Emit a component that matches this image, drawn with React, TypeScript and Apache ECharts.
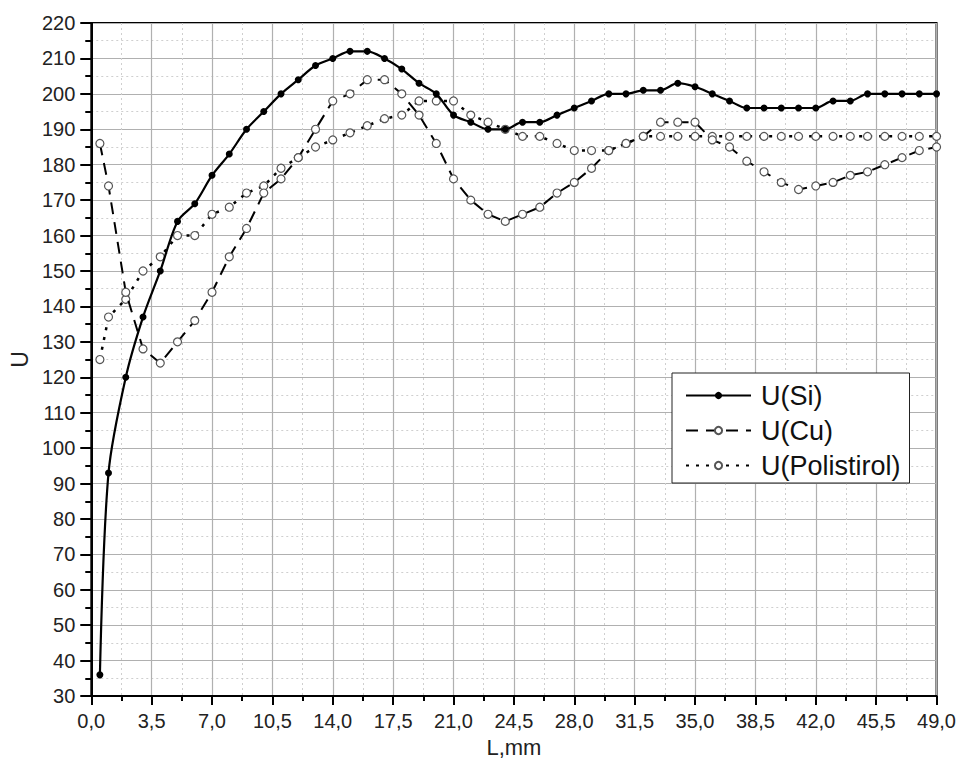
import React, { useEffect, useRef } from "react";
import * as echarts from "echarts";

// L positions (mm) shared by all three series
const L = [
  0.5, 1, 2, 3, 4, 5, 6, 7, 8, 9, 10, 11, 12, 13, 14, 15, 16, 17, 18, 19, 20,
  21, 22, 23, 24, 25, 26, 27, 28, 29, 30, 31, 32, 33, 34, 35, 36, 37, 38, 39,
  40, 41, 42, 43, 44, 45, 46, 47, 48, 49,
];

const U_SI = [
  36, 93, 120, 137, 150, 164, 169, 177, 183, 190, 195, 200, 204, 208, 210, 212,
  212, 210, 207, 203, 200, 194, 192, 190, 190, 192, 192, 194, 196, 198, 200,
  200, 201, 201, 203, 202, 200, 198, 196, 196, 196, 196, 196, 198, 198, 200,
  200, 200, 200, 200,
];

const U_CU = [
  186, 174, 144, 128, 124, 130, 136, 144, 154, 162, 172, 176, 182, 190, 198,
  200, 204, 204, 200, 194, 186, 176, 170, 166, 164, 166, 168, 172, 175, 179,
  184, 186, 188, 192, 192, 192, 187, 185, 181, 178, 175, 173, 174, 175, 177,
  178, 180, 182, 184, 185,
];

const U_POLI = [
  125, 137, 142, 150, 154, 160, 160, 166, 168, 172, 174, 179, 182, 185, 187,
  189, 191, 193, 194, 198, 198, 198, 194, 192, 190, 188, 188, 186, 184, 184,
  184, 186, 188, 188, 188, 188, 188, 188, 188, 188, 188, 188, 188, 188, 188,
  188, 188, 188, 188, 188,
];

const SERIES_NAMES = ["U(Si)", "U(Cu)", "U(Polistirol)"];
const X_TITLE = "L,mm";
const Y_TITLE = "U";

const FONT = "'Liberation Sans', Arial, sans-serif";
const TEXT = "#222";

export default function App() {
  const ref = useRef<HTMLDivElement>(null);

  useEffect(() => {
    if (!ref.current) return;
    const chart = echarts.init(ref.current, undefined, { renderer: "svg" });
    const pts = (ys: number[]) => L.map((x, i) => [x, ys[i]]);

    const option: any = {
      animation: false,
      backgroundColor: "#fff",
      textStyle: { fontFamily: FONT },
      grid: {
        left: 88,
        right: 20,
        top: 23,
        bottom: 57,
        show: true,
        borderColor: "#000",
        borderWidth: 2,
        backgroundColor: "transparent",
      },
      legend: {
        orient: "vertical",
        left: 672,
        top: 373,
        data: SERIES_NAMES,
        backgroundColor: "#fff",
        borderColor: "#222",
        borderWidth: 1,
        padding: [9, 9, 4, 13],
        itemGap: 8,
        itemWidth: 65,
        itemHeight: 9,
        textStyle: {
          fontFamily: FONT,
          fontSize: 27,
          lineHeight: 27,
          color: "#111",
          padding: [0, 0, 0, 5],
        },
      },
      xAxis: {
        type: "value",
        min: 0,
        max: 49,
        interval: 3.5,
        name: X_TITLE,
        nameLocation: "middle",
        nameGap: 35,
        nameTextStyle: { fontFamily: FONT, fontSize: 22, color: TEXT },
        axisLine: { show: true, onZero: false, lineStyle: { color: "#000", width: 2 } },
        axisTick: { show: true, length: 9, lineStyle: { color: "#000", width: 2 } },
        minorTick: { show: true, splitNumber: 2, length: 5, lineStyle: { color: "#000", width: 2 } },
        axisLabel: {
          fontFamily: FONT,
          fontSize: 20,
          color: TEXT,
          margin: 15,
          formatter: (v: number) => v.toFixed(1).replace(".", ","),
        },
        splitLine: { show: true, lineStyle: { color: "#b0b0b0", width: 1.2 } },
        minorSplitLine: { show: true, lineStyle: { color: "#cfcfcf", width: 1, type: [2, 3] } },
      },
      yAxis: {
        type: "value",
        min: 30,
        max: 220,
        interval: 10,
        name: Y_TITLE,
        nameLocation: "middle",
        nameGap: 58,
        nameTextStyle: { fontFamily: FONT, fontSize: 23, color: TEXT },
        axisLine: { show: true, onZero: false, lineStyle: { color: "#000", width: 2 } },
        axisTick: { show: true, length: 11, lineStyle: { color: "#000", width: 2 } },
        minorTick: { show: true, splitNumber: 2, length: 6, lineStyle: { color: "#000", width: 2 } },
        axisLabel: { fontFamily: FONT, fontSize: 20, color: TEXT, margin: 16 },
        splitLine: { show: true, lineStyle: { color: "#b0b0b0", width: 1.2 } },
        minorSplitLine: { show: true, lineStyle: { color: "#cfcfcf", width: 1, type: [2, 3] } },
      },
      series: [
        {
          type: "line",
          name: SERIES_NAMES[0],
          data: pts(U_SI),
          smooth: 0.3,
          symbol: "circle",
          symbolSize: 7,
          itemStyle: { color: "#000" },
          lineStyle: { color: "#000", width: 2.2 },
          z: 4,
        },
        {
          type: "line",
          name: SERIES_NAMES[1],
          data: pts(U_CU),
          symbol: "circle",
          symbolSize: 8,
          itemStyle: { color: "#fff", borderColor: "#555", borderWidth: 1.2 },
          lineStyle: { color: "#000", width: 2, type: [12, 8] },
          z: 3,
        },
        {
          type: "line",
          name: SERIES_NAMES[2],
          data: pts(U_POLI),
          symbol: "circle",
          symbolSize: 8,
          itemStyle: { color: "#fff", borderColor: "#555", borderWidth: 1.2 },
          lineStyle: { color: "#000", width: 2.5, type: [3, 7] },
          z: 2,
        },
      ],
    };
    chart.setOption(option);
    return () => chart.dispose();
  }, []);

  return (
    <div
      ref={ref}
      style={{ position: "absolute", left: 0, top: 0, width: 959, height: 763 }}
    />
  );
}
